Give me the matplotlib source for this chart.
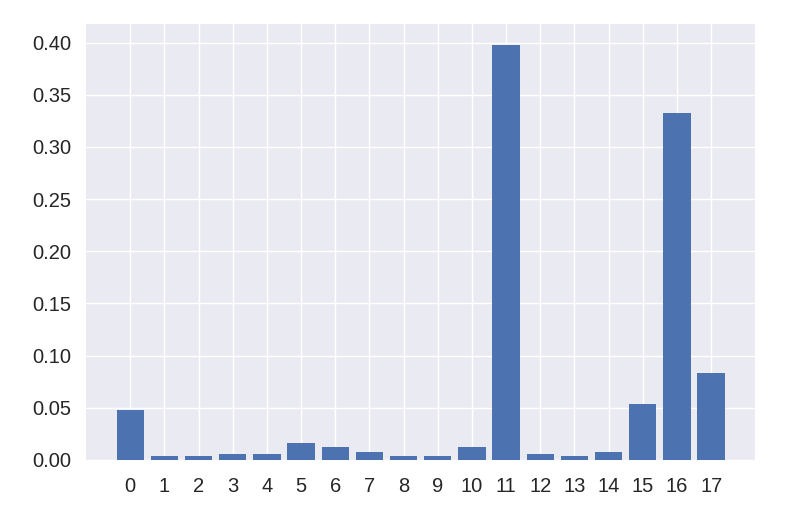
import numpy as np
import matplotlib
matplotlib.use("Agg")
import matplotlib.pyplot as plt

plt.style.use("seaborn-v0_8")
plt.rcParams['font.family'] = ['Liberation Sans', 'DejaVu Sans']

# feature index and importance
features = list(range(18))
importance = [0.048, 0.004, 0.004, 0.006, 0.006, 0.016, 0.012, 0.008, 0.004,
              0.004, 0.012, 0.398, 0.006, 0.004, 0.008, 0.054, 0.333, 0.083]

fig, ax = plt.subplots(figsize=(7.9, 5.22), dpi=100)
fig.subplots_adjust(left=0.109, right=0.956, bottom=0.119, top=0.954)

ax.bar(features, importance, color="#4C72B0")
ax.set_xticks(features)
ax.tick_params(labelsize=14.5, colors=".15", pad=10.5)
ax.tick_params(axis="x", pad=12.5)

fig.savefig("out.png")
